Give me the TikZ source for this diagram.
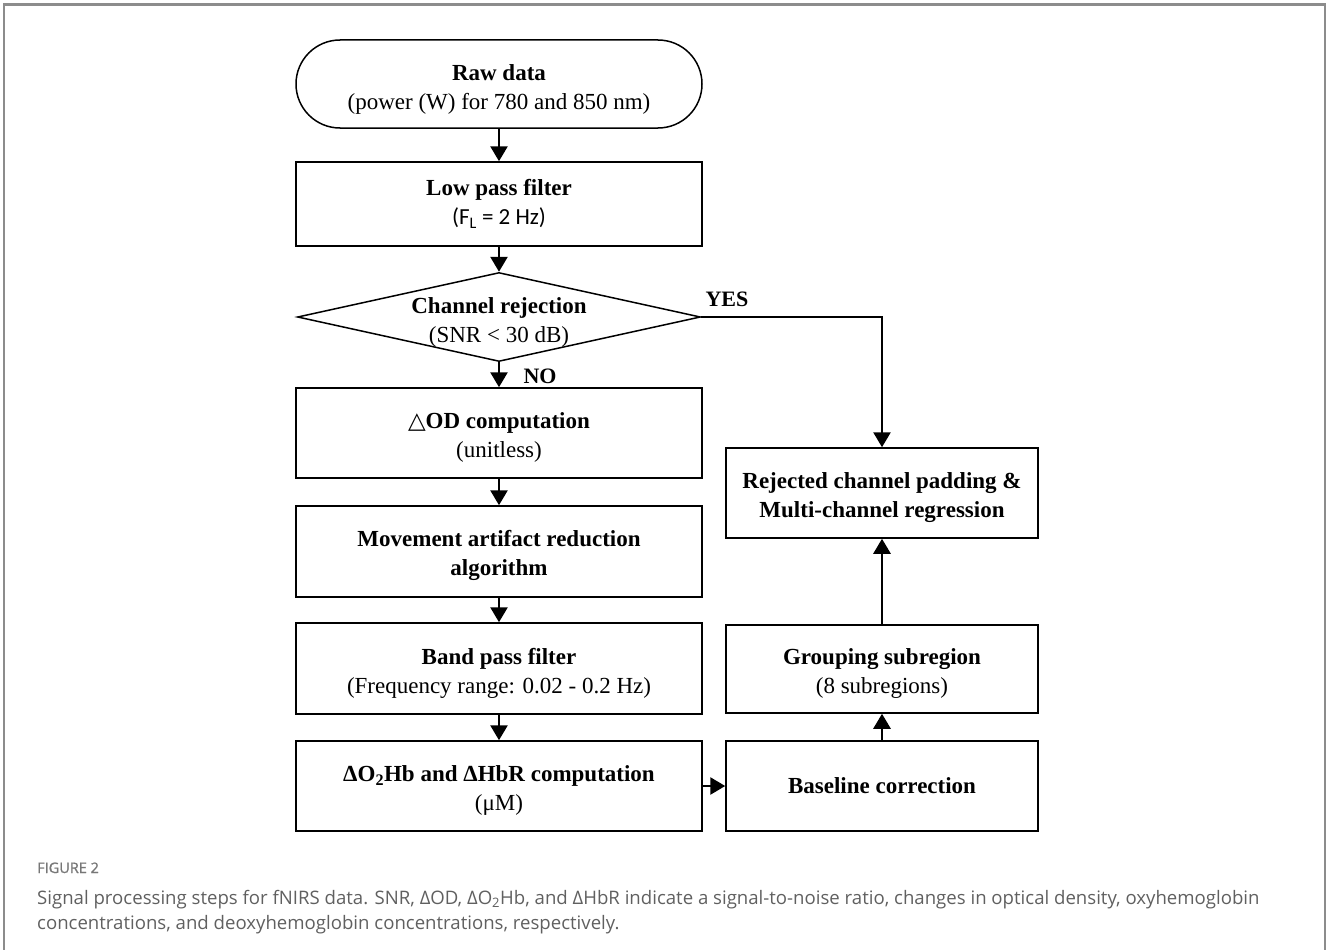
\documentclass[tikz,border=0pt]{standalone}
\usepackage{fontspec}
\setmainfont{Liberation Serif}
\newfontfamily\capfont{Open Sans}
\newfontfamily\figfont[FakeBold=1.2]{Open Sans}
\newfontfamily\calfont{Carlito}
\newfontfamily\dvfont{DejaVu Sans}
\usetikzlibrary{arrows.meta,shapes.geometric,shapes.misc}
\definecolor{framegray}{HTML}{8C8C8C}
\definecolor{capgray}{HTML}{606060}
\definecolor{figgray}{HTML}{777777}
\newcommand\topgap{\rule{0pt}{25pt}}
\newcommand\rawgap{\rule{0pt}{27pt}}
\tikzset{
  boxtext/.style={align=center,font=\fontsize{23}{29}\selectfont},
  procbox/.style={draw,line width=1.5pt,inner sep=0pt,minimum width=406pt,minimum height=89pt,boxtext},
  rbox/.style={draw,line width=1.5pt,inner sep=0pt,minimum width=312pt,minimum height=89pt,boxtext},
  flow/.style={line width=2.7pt,-{Triangle[width=17pt,length=15pt]}},
  lbl/.style={font=\fontsize{22}{25}\selectfont\bfseries,inner sep=0pt}
}
\begin{document}
\begin{tikzpicture}[x=1pt,y=-1pt]
\useasboundingbox (0,0) rectangle (1328,950);
% outer frame
\draw[framegray,line width=2.4pt] (4,952) -- (4,4.5) -- (1325,4.5) -- (1325,952);
% nodes
\node[draw,line width=1.5pt,rounded rectangle,inner sep=0pt,minimum width=406pt,minimum height=88pt,boxtext] (raw) at (499,84)
  {\rawgap\textbf{Raw data}\\(power (W) for 780 and 850 nm)};
\node[procbox,minimum height=84pt] (lpf) at (499,204)
  {\textbf{Low pass filter}\\{\calfont (F\textsubscript{L} = 2 Hz)}};
\node[draw,line width=1.5pt,diamond,inner sep=0pt,minimum width=403pt,minimum height=89pt] (rej) at (499,317) {};
\node[boxtext] (rejtext) at (499,322) {\textbf{Channel rejection}\\(SNR < 30 dB)};
\node[procbox,minimum height=90pt] (od) at (499,433)
  {\topgap\textbf{{\dvfont △}OD computation}\\(unitless)};
\node[procbox,minimum height=91pt] (mov) at (499,551.5)
  {\topgap\textbf{Movement artifact reduction}\\\textbf{algorithm}};
\node[procbox,minimum height=91pt] (bpf) at (499,668.5)
  {\topgap\textbf{Band pass filter}\\(Frequency range: 0.02 - 0.2 Hz)};
\node[procbox,minimum height=90pt] (hb) at (499,786)
  {\topgap\textbf{ΔO\textsubscript{2}Hb and ΔHbR computation}\\(μM)};
\node[rbox,minimum height=90pt] (base) at (882,786) {\textbf{Baseline correction}};
\node[rbox,minimum height=88pt] (grp) at (882,669)
  {\topgap\textbf{Grouping subregion}\\(8 subregions)};
\node[rbox,minimum height=90pt] (rejc) at (882,493)
  {\topgap\textbf{Rejected channel padding \&}\\\textbf{Multi-channel regression}};
% connectors
\draw[flow] (raw.south) -- (lpf.north);
\draw[flow] (lpf.south) -- (rej.north);
\draw[flow] (rej.south) -- (od.north);
\draw[flow] (od.south) -- (mov.north);
\draw[flow] (mov.south) -- (bpf.north);
\draw[flow] (bpf.south) -- (hb.north);
\draw[flow] (hb.east) -- (base.west);
\draw[flow] (base.north) -- (grp.south);
\draw[flow] (grp.north) -- (rejc.south);
\draw[flow] (rej.east) -| (rejc.north);
% labels
\node[lbl] (yes) at (727,299) {YES};
\node[lbl] (no) at (540,376) {NO};
% caption
\node[anchor=base west,inner sep=0pt,text=figgray,font=\figfont\fontsize{14.5}{16}\selectfont] (fig) at (37,873) {FIGURE 2};
\node[anchor=base west,inner sep=0pt,text=capgray,font=\capfont\fontsize{18.6}{25}\selectfont,align=left] (cap) at (37,929)
  {Signal processing steps for fNIRS data. SNR, ΔOD, ΔO\textsubscript{2}Hb, and ΔHbR indicate a signal-to-noise ratio, changes in optical density, oxyhemoglobin\\concentrations, and deoxyhemoglobin concentrations, respectively.};
\end{tikzpicture}
\end{document}
